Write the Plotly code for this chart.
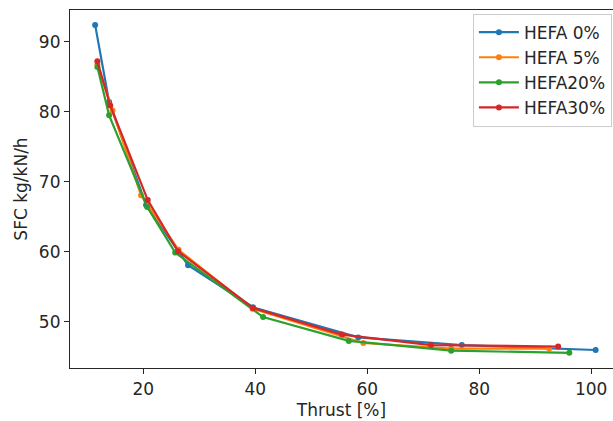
import plotly.graph_objects as go

series_names = ["HEFA 0%", "HEFA 5%", "HEFA20%", "HEFA30%"]
colors = ["#1f77b4", "#ff7f0e", "#2ca02c", "#d62728"]

thrust_0 = [11.4, 13.9, 20.5, 28.0, 39.6, 58.4, 76.9, 100.8]
sfc_0 = [92.4, 81.4, 66.7, 58.1, 52.1, 47.8, 46.7, 46.0]

thrust_5 = [11.8, 14.5, 19.6, 26.3, 39.5, 59.3, 75.0, 92.5]
sfc_5 = [86.8, 80.2, 68.1, 60.3, 51.9, 47.0, 46.2, 46.2]

thrust_20 = [11.8, 13.9, 20.7, 25.7, 41.4, 56.7, 75.0, 96.1]
sfc_20 = [86.4, 79.5, 66.4, 59.9, 50.7, 47.3, 45.9, 45.6]

thrust_30 = [11.8, 14.1, 20.8, 26.2, 39.6, 55.5, 71.4, 94.1]
sfc_30 = [87.2, 80.9, 67.4, 60.1, 52.0, 48.2, 46.7, 46.5]

xs = [thrust_0, thrust_5, thrust_20, thrust_30]
ys = [sfc_0, sfc_5, sfc_20, sfc_30]

FONT = "DejaVu Sans"
FS = 17

fig = go.Figure()
for name, c, x, y in zip(series_names, colors, xs, ys):
    fig.add_trace(go.Scatter(
        x=x, y=y, name=name, mode="lines+markers",
        line=dict(color=c, width=2.2),
        marker=dict(color=c, size=6),
    ))

axis_common = dict(
    showline=True, linecolor="#262626", linewidth=1.2,
    ticks="outside", ticklen=5, tickwidth=1.2, tickcolor="#262626",
    showgrid=False, zeroline=False,
    tickfont=dict(family=FONT, size=FS, color="#262626"),
)

fig.update_layout(
    width=613, height=421,
    margin=dict(l=70, r=0, t=10, b=53),
    plot_bgcolor="white", paper_bgcolor="white",
    font=dict(family=FONT, size=FS, color="#262626"),
    xaxis=dict(range=[6.91, 103.9], tickvals=[20, 40, 60, 80, 100],
               mirror=True,
               title=dict(text="Thrust [%]", font=dict(family=FONT, size=FS), standoff=6),
               **axis_common),
    yaxis=dict(range=[43.43, 94.53], tickvals=[50, 60, 70, 80, 90],
               title=dict(text="SFC kg/kN/h", font=dict(family=FONT, size=FS), standoff=6),
               **axis_common),
    legend=dict(
        x=0.998, y=0.99, xanchor="right", yanchor="top",
        bgcolor="white", bordercolor="#cccccc", borderwidth=1,
        font=dict(family=FONT, size=FS, color="#262626"),
        tracegroupgap=0, itemwidth=40,
    ),
    showlegend=True,
)

fig.write_html("out.html", config={"displayModeBar": False},
               post_script="document.body.style.margin='0';")
